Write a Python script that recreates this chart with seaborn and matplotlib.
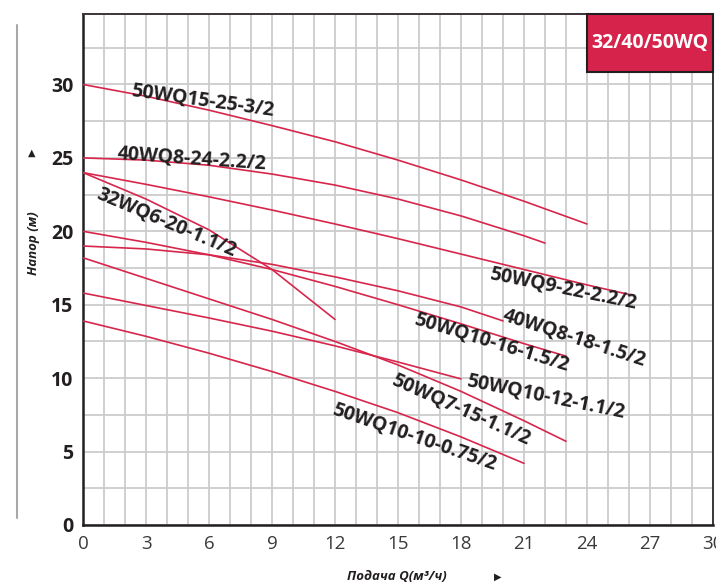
import numpy as np
import pandas as pd
import matplotlib
matplotlib.use("Agg")
import matplotlib.pyplot as plt
import seaborn as sns
from matplotlib.patches import Rectangle
from matplotlib.lines import Line2D
from matplotlib.ticker import MultipleLocator

# ---------------- data ----------------
q_15_25 = [0, 3, 6, 9, 12, 15, 18, 21, 24]
h_15_25 = [30, 29.2, 28.25, 27.2, 26.1, 24.85, 23.5, 22.05, 20.5]

q_8_24 = [0, 3, 6, 9, 12, 15, 18, 21, 22]
h_8_24 = [25, 24.85, 24.5, 23.9, 23.15, 22.2, 21.05, 19.7, 19.2]

q_9_22 = [0, 3, 6, 9, 12, 15, 18, 21, 24, 26]
h_9_22 = [24.0, 23.2, 22.35, 21.45, 20.5, 19.5, 18.45, 17.4, 16.35, 15.7]

q_6_20 = [0, 3, 6, 9, 12]
h_6_20 = [24.0, 22.2, 20.1, 17.4, 14.0]

q_10_16 = [0, 3, 6, 9, 12, 15, 18, 21, 23]
h_10_16 = [20.0, 19.25, 18.4, 17.4, 16.25, 15.0, 13.7, 12.35, 11.5]

q_8_18 = [0, 3, 6, 9, 12, 15, 18, 20]
h_8_18 = [19.0, 18.8, 18.4, 17.75, 16.9, 15.95, 14.85, 13.9]

q_7_15 = [0, 3, 6, 9, 12, 15, 18, 21, 23]
h_7_15 = [18.2, 16.8, 15.4, 14.0, 12.5, 10.9, 9.1, 7.1, 5.7]

q_10_12 = [0, 3, 6, 9, 12, 15, 18]
h_10_12 = [15.8, 14.95, 14.1, 13.2, 12.2, 11.1, 9.95]

q_10_10 = [0, 3, 6, 9, 12, 15, 18, 21]
h_10_10 = [13.9, 12.85, 11.7, 10.45, 9.1, 7.65, 6.0, 4.2]

models = ["50WQ15-25-3/2", "40WQ8-24-2.2/2", "50WQ9-22-2.2/2", "32WQ6-20-1.1/2",
          "50WQ10-16-1.5/2", "40WQ8-18-1.5/2", "50WQ7-15-1.1/2", "50WQ10-12-1.1/2",
          "50WQ10-10-0.75/2"]
curves_q = [q_15_25, q_8_24, q_9_22, q_6_20, q_10_16, q_8_18, q_7_15, q_10_12, q_10_10]
curves_h = [h_15_25, h_8_24, h_9_22, h_6_20, h_10_16, h_8_18, h_7_15, h_10_12, h_10_10]

# label placement (data coords) and rotation (deg)
label_x = [5.7, 5.2, 22.86, 3.95, 19.43, 23.38, 18.0, 22.0, 15.76]
label_y = [28.84, 24.9, 16.1, 20.6, 12.4, 12.7, 7.84, 8.73, 5.93]
label_rot = [-8, -4, -11.5, -23, -17, -18, -24, -11.5, -19]

xticks = [0, 3, 6, 9, 12, 15, 18, 21, 24, 27, 30]
yticks = [0, 5, 10, 15, 20, 25, 30]
title_box = "32/40/50WQ"
xlabel = "Подача Q(м³/ч)"
ylabel = "Напор (м)"

# ---------------- style ----------------
RED = "#d7264b"
DARK = "#231f20"
GRID = "#cbcbcb"

sns.set_style("white")
plt.rcParams["font.family"] = ["Open Sans", "DejaVu Sans"]

rows = []
for m, qs, hs in zip(models, curves_q, curves_h):
    for q, h in zip(qs, hs):
        rows.append((m, q, h))
df = pd.DataFrame(rows, columns=["model", "Q", "H"])

fig = plt.figure(figsize=(7.16, 5.83), dpi=100)
ax = fig.add_axes([83 / 716, 58 / 583, 630 / 716, 511 / 583])

sns.lineplot(data=df, x="Q", y="H", hue="model", hue_order=models,
             palette=[RED] * len(models), estimator=None, sort=False,
             legend=False, linewidth=1.2, ax=ax, zorder=3)

ax.set_xlim(0, 30)
ax.set_ylim(0, 34.8)
ax.xaxis.set_major_locator(matplotlib.ticker.FixedLocator(xticks))
ax.yaxis.set_major_locator(matplotlib.ticker.FixedLocator(yticks))
ax.xaxis.set_minor_locator(MultipleLocator(1))
ax.yaxis.set_minor_locator(MultipleLocator(2.5))
ax.grid(True, which="both", color=GRID, linewidth=1.3, zorder=0)
ax.set_axisbelow(True)

ax.set_xticklabels([str(t) for t in xticks], fontsize=13.5, color="#3a3a3a")
ax.set_yticklabels([str(t) for t in yticks], fontsize=14, fontweight="bold", color=DARK)
ax.tick_params(axis="both", which="major", direction="out", length=4, width=1.5,
               color=DARK, pad=3)
ax.tick_params(axis="both", which="minor", length=0)
ax.set_xlabel("")
ax.set_ylabel("")

for side in ["left", "bottom"]:
    ax.spines[side].set_color(DARK)
    ax.spines[side].set_linewidth(1.8)
for side in ["top", "right"]:
    ax.spines[side].set_color("#3a3536")
    ax.spines[side].set_linewidth(1.4)

for m, lx, ly, rot in zip(models, label_x, label_y, label_rot):
    ax.text(lx, ly, m, rotation=rot, rotation_mode="anchor", ha="center", va="center",
            fontsize=14, fontweight="bold", color=DARK, zorder=4)

# title box
ax.add_patch(Rectangle((0.8, 0.886), 0.2, 0.114, transform=ax.transAxes,
                       facecolor="#d6234b", edgecolor=DARK, linewidth=1.5, zorder=5,
                       clip_on=False))
ax.text(0.9, 0.943, title_box, transform=ax.transAxes, ha="center", va="center",
        fontsize=14, fontweight="bold", color="white", zorder=6)

# axis labels (outside)
fig.text(33 / 716, 1 - 243 / 583, ylabel, rotation=90, ha="center", va="center",
         fontsize=9.5, fontweight="bold", fontstyle="italic", color=DARK)
fig.text(32 / 716, 1 - 153 / 583, "▲", ha="center", va="center", fontsize=7,
         color=DARK, family=["DejaVu Sans"])
fig.text(397 / 716, 1 - 577 / 583, xlabel, ha="center", va="center",
         fontsize=9.5, fontweight="bold", fontstyle="italic", color=DARK)
fig.text(498 / 716, 1 - 577 / 583, "▶", ha="center", va="center", fontsize=7,
         color=DARK, family=["DejaVu Sans"])
fig.add_artist(Line2D([17 / 716, 17 / 716], [1 - 25 / 583, 1 - 518 / 583],
                      transform=fig.transFigure, color="#a8a8a8", linewidth=1.5))

fig.savefig("out.png", dpi=100)
